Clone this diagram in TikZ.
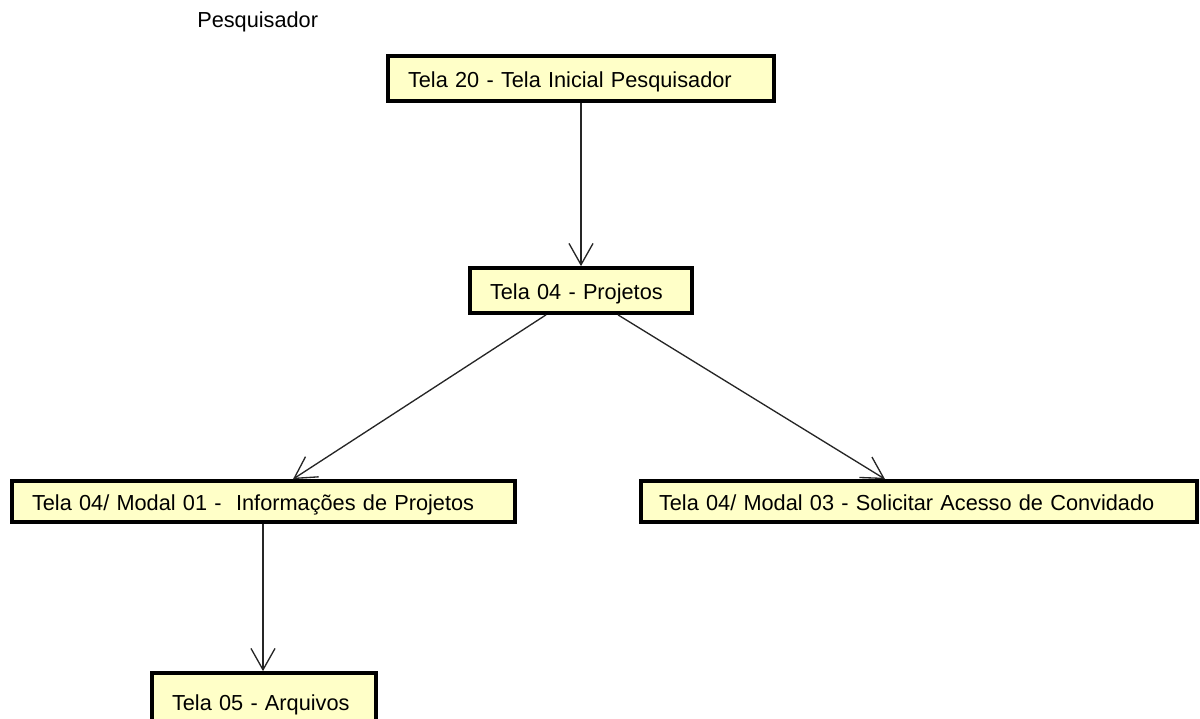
\documentclass[tikz,border=0pt]{standalone}
\usepackage{fontspec}
\setmainfont{Liberation Sans}
\usetikzlibrary{arrows.meta}
\definecolor{boxfill}{RGB}{255,255,200}
\begin{document}
\begin{tikzpicture}[x=0.75pt,y=-0.75pt,
  screen/.style={draw=black,line width=2.8pt,fill=boxfill,rectangle,inner xsep=0pt,inner ysep=0pt,
    text height=14pt,text depth=0pt,
    font=\fontsize{16.3pt}{18pt}\selectfont,align=left},
  flow/.style={draw=black!85,line width=1pt,-{Straight Barb[length=16pt,width=18pt,line width=1pt]}},
  lbl/.style={font=\fontsize{16.3pt}{18pt}\selectfont,inner sep=0pt,anchor=west}]
\useasboundingbox (0,0) rectangle (1200,718);
\clip (0,0) rectangle (1200,718);
\node[lbl] (who) at (197,22) {Pesquisador};
\node[screen,minimum width=386*0.75pt,minimum height=45*0.75pt,text width=(386-40)*0.75pt] (b1) at (581,78.5) {Tela 20 - Tela Inicial Pesquisador};
\node[screen,minimum width=222*0.75pt,minimum height=45*0.75pt,text width=(222-40)*0.75pt] (b2) at (581,290.5) {Tela 04 - Projetos};
\node[screen,minimum width=503*0.75pt,minimum height=41*0.75pt,text width=(503-40)*0.75pt] (b3) at (263.5,501.5) {Tela 04/ Modal 01 -\ \ Informações de Projetos};
\node[screen,minimum width=556*0.75pt,minimum height=41*0.75pt,text width=(556-36)*0.75pt] (b4) at (919,501.5) {Tela 04/ Modal 03 - Solicitar Acesso de Convidado};
\node[screen,minimum width=224*0.75pt,minimum height=56*0.75pt,text width=(224-40)*0.75pt] (b5) at (264,701) {Tela 05 - Arquivos};
\draw[flow] (b1.south) -- (b2.north);
\draw[flow] ([xshift=-35*0.75pt]b2.south) -- ([xshift=29.5*0.75pt]b3.north);
\draw[flow] ([xshift=37*0.75pt]b2.south) -- ([xshift=-34*0.75pt]b4.north);
\draw[flow] ([xshift=-0.5*0.75pt]b3.south) -- ([xshift=-1*0.75pt]b5.north);
\end{tikzpicture}
\end{document}
